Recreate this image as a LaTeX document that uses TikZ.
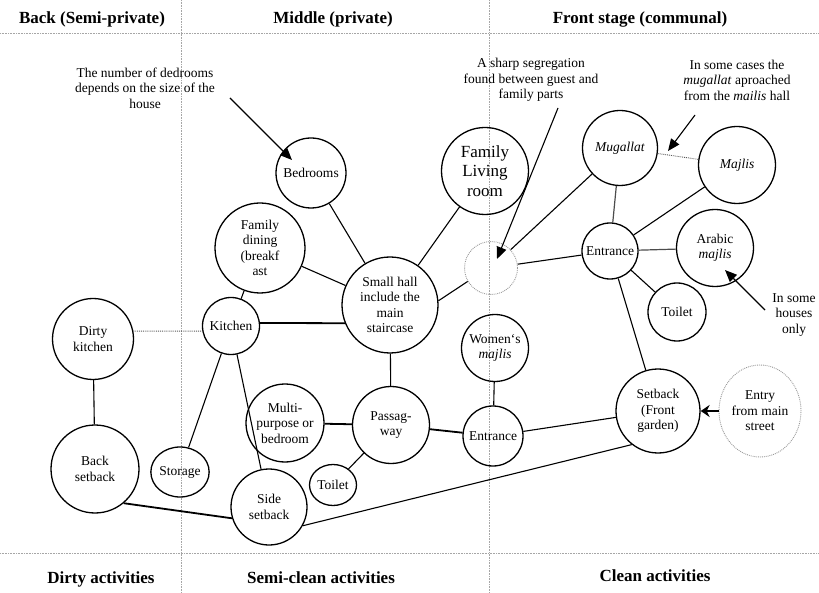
\documentclass[tikz,border=0pt]{standalone}
\usepackage{fontspec}
\setmainfont{Liberation Serif}
\usetikzlibrary{arrows.meta,shapes.geometric}
\newcommand\bodyfont{\fontsize{13.5}{15.5}\selectfont}
\newcommand\headfont{\fontsize{17}{20}\selectfont\bfseries}
\newcommand\bigroomfont{\fontsize{17}{19.5}\selectfont}

\begin{document}
\begin{tikzpicture}[x=1pt,y=-1pt,
  room/.style={circle,draw,line width=1.3pt,inner sep=0pt,align=center,font=\bodyfont},
  oval/.style={ellipse,draw,line width=1.3pt,inner sep=0pt,align=center,font=\bodyfont},
  optional/.style={circle,draw=gray!80,densely dotted,line width=0.9pt,inner sep=0pt,align=center,font=\bodyfont},
  link/.style={line width=1.1pt},
  heavylink/.style={line width=1.8pt},
  greylink/.style={line width=1.2pt,draw=gray!60!black},
  weaklink/.style={densely dotted,line width=0.9pt,draw=gray!70!black},
  divider/.style={densely dotted,line width=0.6pt,draw=gray!70},
  note/.style={align=center,font=\bodyfont,inner sep=0pt},
  heading/.style={font=\headfont,inner sep=0pt},
  pointer/.style={line width=1.1pt,-{Triangle[length=12pt,width=10pt]}}
]
\useasboundingbox (0,0) rectangle (819,593);

% zone dividers
\draw[divider] (181,0) -- (181,593);
\draw[divider] (489,0) -- (489,593);
\draw[divider] (0,33) -- (819,33);
\draw[divider] (0,553) -- (819,553);

% zone headings
\node[heading] (hback)  at (92,19)  {Back (Semi-private)};
\node[heading] (hmid)   at (333,19) {Middle (private)};
\node[heading] (hfront) at (640,19) {Front stage (communal)};
\node[heading] (fdirty) at (101,579) {Dirty activities};
\node[heading] (fsemi)  at (321,578) {Semi-clean activities};
\node[heading] (fclean) at (655,576) {Clean activities};

% rooms
\node[room, minimum size=70] (bed) at (311,173) {Bedrooms};
\node[room, minimum size=87, font=\bigroomfont] (flr) at (485,171) {Family\\Living\\room};
\node[room, minimum size=90] (fd) at (260,248) {Family\\dining\\(breakf\\ast};
\node[room, minimum size=96] (hall) at (390,305) {Small hall\\include the\\main\\staircase};
\node[optional, minimum size=53] (seg) at (491,268) {};
\node[room, minimum size=75] (mug) at (620,148) {\textit{Mugallat}};
\node[room, minimum size=77] (maj) at (737,165) {\textit{Majlis}};
\node[room, minimum size=56] (entR) at (610,251) {Entrance};
\node[room, minimum size=77] (am) at (715,248) {Arabic\\\textit{majlis}};
\node[room, minimum size=58] (toiR) at (677,312) {Toilet};
\node[room, minimum size=67] (wm) at (495,348) {Women`s\\\textit{majlis}};
\node[room, minimum size=60] (entM) at (493,436) {Entrance};
\node[room, minimum size=84] (sb) at (658,411) {Setback\\(Front\\garden)};
\node[optional, ellipse, minimum width=82, minimum height=92] (entry) at (760,411) {Entry\\from main\\street};
\node[room, minimum size=77] (pass) at (391,425) {Passag-\\way};
\node[room, minimum size=78] (mp) at (285,423) {Multi-\\purpose or\\bedroom};
\node[oval, minimum width=47, minimum height=41] (toiM) at (333,485) {Toilet};
\node[room, minimum size=57] (kit) at (231,326) {Kitchen};
\node[room, minimum size=81] (dk) at (93,339) {Dirty\\kitchen};
\node[room, minimum size=88] (bs) at (95,469) {Back\\setback};
\node[oval, minimum width=56, minimum height=50] (sto) at (180,472) {Storage};
\node[room, minimum size=76] (ss) at (269,507) {Side\\setback};

% connections between rooms
\draw[link] (bed) -- (hall);
\draw[link] (flr) -- (hall);
\draw[link] (fd) -- (hall);
\draw[link] (fd) -- (kit);
\draw[link] (hall.5) -- (seg.210);
\draw[link] (seg) -- (entR);
\draw[heavylink] (kit.6) -- (hall.202);
\draw[weaklink] (dk.11) -- (kit.190);
\draw[link] (dk) -- (bs);
\draw[link] (kit) -- (sto);
\draw[link] (kit) -- (ss);
\draw[link] (hall) -- (pass);
\draw[heavylink] (pass) -- (mp);
\draw[link] (pass) -- (toiM);
\draw[heavylink] (pass) -- (entM);
\draw[link] (wm) -- (entM);
\draw[link] (entM) -- (sb);
\draw[heavylink] (bs.-50) -- (ss.197);
\draw[link] (ss.-29) -- (sb.232);
\draw[link] (entR) -- (sb);
\draw[greylink] (mug) -- (entR);
\draw[link] (entR) -- (maj);
\draw[greylink] (entR) -- (am);
\draw[link] (entR) -- (toiR);
\draw[weaklink] (mug) -- (maj);
\draw[link] (mug) -- (seg);
\draw[line width=2.6pt,-{Stealth[length=9pt,width=12pt,inset=3pt]}] (entry) -- (sb);

% annotations
\node[note] (bednote) at (145,88) {The number of dedrooms\\depends on the size of the\\house};
\node[note] (segnote) at (531,80) {A sharp segregation\\found between guest and\\family parts};
\node[note] (mugnote) at (737,80) {In some cases the\\\textit{mugallat} aproached\\from the \textit{mailis} hall};
\node[note] (amnote) at (794,315) {In some\\houses\\only};

\coordinate (bedfrom) at (230,98);
\coordinate (bedtip) at (292,160);
\coordinate (segfrom) at (558,108);
\coordinate (segtip) at (497,259);
\coordinate (mugfrom) at (695,115);
\coordinate (mugtip) at (668,151);
\coordinate (amfrom) at (765,310);
\coordinate (amtip) at (725,270);

\draw[pointer] (bedfrom) -- (bedtip);
\draw[pointer] (segfrom) -- (segtip);
\draw[pointer] (mugfrom) -- (mugtip);
\draw[pointer] (amfrom) -- (amtip);
\end{tikzpicture}
\end{document}
